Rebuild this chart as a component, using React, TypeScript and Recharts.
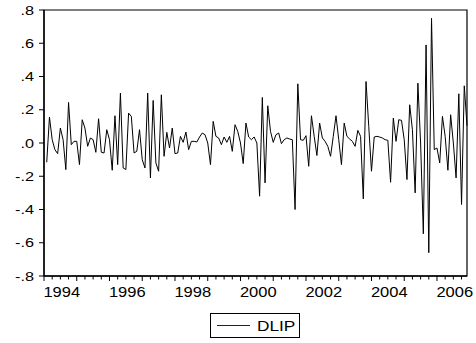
import React from 'react';
import { LineChart, Line, XAxis, YAxis, Legend, ReferenceArea } from 'recharts';

const START_YEAR = 1994;
const SERIES_NAME = 'DLIP';
// monthly values, 1994M01 ... 2006M11
const DLIP: number[] = [
  -0.116, 0.156, 0.02, -0.04, -0.064, 0.09, 0.02, -0.16, 0.244, -0.01,
  0.01, 0.01, -0.13, 0.14, 0.09, -0.02, 0.03, 0.02, -0.056, 0.146,
  -0.056, -0.06, 0.08, 0.02, -0.164, 0.164, -0.13, 0.3, -0.15, -0.16,
  0.18, 0.16, -0.06, -0.05, 0.08, -0.1, -0.15, 0.3, -0.21, 0.256,
  -0.12, -0.17, 0.29, -0.08, 0.064, -0.03, 0.09, -0.064, -0.06, 0.04,
  0.004, 0.066, -0.04, 0.01, 0.01, 0.006, 0.036, 0.06, 0.05, 0.0,
  -0.13, 0.13, 0.04, 0.03, -0.01, 0.036, 0.004, 0.04, -0.05, 0.11,
  0.07, 0.0, -0.124, 0.12, 0.036, 0.02, 0.036, 0.0, -0.32, 0.274,
  -0.24, 0.224, 0.07, 0.004, 0.05, 0.06, -0.004, 0.02, 0.03, 0.024,
  0.02, -0.4, 0.356, 0.02, 0.016, 0.044, -0.14, 0.164, 0.04, -0.075,
  0.12, 0.03, 0.01, -0.02, -0.08, 0.04, 0.164, 0.02, -0.13, 0.12,
  0.04, 0.024, 0.01, -0.02, 0.076, 0.04, -0.336, 0.37, 0.1, -0.17,
  0.036, 0.04, 0.036, 0.03, 0.02, 0.016, -0.236, 0.15, 0.01, 0.14,
  0.136, 0.02, -0.22, 0.23, 0.08, -0.3, 0.36, 0.0, -0.546, 0.59,
  -0.66, 0.75, -0.04, -0.03, -0.12, 0.16, 0.04, -0.164, 0.17, 0.0,
  -0.21, 0.296, -0.37, 0.344, 0.104,
];
const YEAR_LABELS = ['1994', '1996', '1998', '2000', '2002', '2004', '2006'];
const Y_TICKS = [-0.8, -0.6, -0.4, -0.2, 0, 0.2, 0.4, 0.6, 0.8];

const data = DLIP.map((v, i) => ({
  t: i,
  period: `${START_YEAR + Math.floor(i / 12)}M${String((i % 12) + 1).padStart(2, '0')}`,
  [SERIES_NAME]: v,
}));

const X_DOMAIN: [number, number] = [-1, DLIP.length - 1];
const Y_DOMAIN: [number, number] = [-0.8, 0.8];
const MINOR_TICKS: number[] = [];
for (let v = -1; v <= DLIP.length - 2; v += 3) MINOR_TICKS.push(v);
const LABEL_TICKS = YEAR_LABELS.map((y) => (Number(y) - START_YEAR) * 12 + 5.5);
const X_TICKS = [...MINOR_TICKS, ...LABEL_TICKS].sort((a, b) => a - b);

const FONT = '"Liberation Sans", Arial, Helvetica, sans-serif';

const fmtY = (v: number) => {
  const s = v.toFixed(1);
  return s.replace(/^(-?)0\./, '$1.');
};

const YTick = (props: any) => {
  const { x, y, payload } = props;
  return (
    <g transform={`translate(${x},${y}) scale(1.3,1)`}>
      <text x={0} y={0} dy="0.36em" textAnchor="end" fontSize={12.5} fontFamily={FONT} fill="#000">
        {fmtY(payload.value)}
      </text>
    </g>
  );
};

const XTick = (props: any) => {
  const { x, y, payload } = props;
  const v: number = payload.value;
  if (v % 1 !== 0) {
    const label = String(START_YEAR + (v - 5.5) / 12);
    return (
      <g transform={`translate(${x},${y + 21}) scale(1.1,1)`}>
        <text x={0} y={0} textAnchor="middle" fontSize={15} fontFamily={FONT} fill="#000">
          {label}
        </text>
      </g>
    );
  }
  const long = (v + 1) % 12 === 0;
  return <line x1={x} x2={x} y1={y} y2={y + (long ? 5 : 3.5)} stroke="#000" strokeWidth={1} />;
};

const LegendBox = () => (
  <div
    style={{
      width: 90,
      height: 25,
      boxSizing: 'border-box',
      border: '1px solid #000',
      display: 'flex',
      alignItems: 'center',
      background: '#fff',
    }}
  >
    <div style={{ width: 33, height: 1, background: '#222', marginLeft: 6 }} />
    <span
      style={{
        fontFamily: FONT,
        fontSize: 15,
        marginLeft: 7,
        display: 'inline-block',
        transform: 'scaleX(1.15)',
        transformOrigin: 'left center',
        lineHeight: '1',
      }}
    >
      {SERIES_NAME}
    </span>
  </div>
);

export default function App() {
  return (
    <div style={{ position: 'absolute', left: 0, top: 0, width: 476, height: 343, background: '#fff' }}>
      <LineChart
        width={476}
        height={343}
        data={data}
        margin={{ top: 10, right: 9, left: 0, bottom: 37 }}
      >
        <XAxis
          dataKey="t"
          type="number"
          domain={X_DOMAIN}
          ticks={X_TICKS}
          interval={0}
          allowDecimals
          height={30}
          tickSize={0}
          tickMargin={0}
          tickLine={false}
          axisLine={{ stroke: '#000', strokeWidth: 1.3 }}
          tick={<XTick />}
        />
        <YAxis
          type="number"
          domain={Y_DOMAIN}
          ticks={Y_TICKS}
          interval={0}
          width={44}
          tickSize={5}
          tickMargin={5}
          tickLine={{ stroke: '#000' }}
          axisLine={{ stroke: '#000', strokeWidth: 1.3 }}
          tick={<YTick />}
        />
        <ReferenceArea
          x1={X_DOMAIN[0]}
          x2={X_DOMAIN[1]}
          y1={Y_DOMAIN[0]}
          y2={Y_DOMAIN[1]}
          fill="none"
          fillOpacity={0}
          stroke="#000"
          strokeWidth={1.2}
          strokeOpacity={1}
          ifOverflow="visible"
        />
        <Legend
          verticalAlign="middle"
          align="center"
          layout="horizontal"
          wrapperStyle={{ position: 'absolute', left: 210, top: 313, width: 90, height: 25 }}
          content={() => <LegendBox />}
        />
        <Line
          type="linear"
          dataKey={SERIES_NAME}
          stroke="#000"
          strokeWidth={1}
          dot={false}
          isAnimationActive={false}
        />
      </LineChart>
    </div>
  );
}
